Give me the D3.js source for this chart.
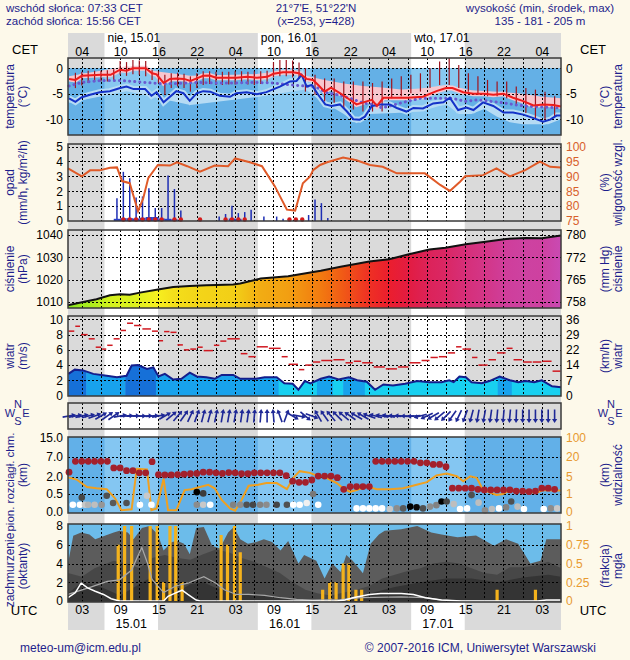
<!DOCTYPE html>
<html><head><meta charset="utf-8">
<script src="https://cdn.jsdelivr.net/npm/d3@7"></script>
<style>
html,body{margin:0;padding:0;background:#fdf9ea;}
svg{display:block;}
</style></head><body>
<svg id="c" width="630" height="660"></svg>
<script>
// ---------------- DATA ----------------
const sunriseH = [6.55, 30.55, 54.55];
const sunsetH  = [14.93, 38.93, 62.93];
const dayTopLabels = ["nie, 15.01", "pon, 16.01", "wto, 17.01"];
const dayBottomLabels = ["15.01", "16.01", "17.01"];
const labelHours = [3, 9, 15, 21, 27, 33, 39, 45, 51, 57, 63, 69, 75];
const cetLabels = ["04","10","16","22","04","10","16","22","04","10","16","22","04"];
const utcLabels = ["03","09","15","21","03","09","15","21","03","09","15","21","03"];

const tempHours = [1,2,3,6,7.5,9,10,11,13,14,14.7,15.8,16.8,17.8,19,20,21,22,23,24,25.7,27.2,28.8,30.4,32,33,34.5,36,37,38.2,39.2,40,41,42,43.4,44.5,46,47.3,48.4,49.2,50.2,52,54,56.4,58.5,60,61,62.7,64.3,66,67.4,69,70.5,72,73.7,75.2,76.8,78];
const temp = [-2.1,-2.3,-1.5,-1.3,-1.3,-0.3,-0.5,0,0,-1,-1.2,-2.9,-2.1,-2,-2.1,-2.5,-2,-1.5,-1.45,-1.85,-1.85,-1.85,-1.7,-1.85,-1.7,-1.1,-0.8,-0.8,-1,-2.1,-2.3,-3.3,-4.6,-3.8,-4.9,-5.8,-7.1,-6.6,-6.2,-7.4,-5.8,-5.8,-5.8,-5.6,-4.5,-3.9,-3.9,-4.7,-5,-5,-5.2,-5,-5.8,-6.4,-7.3,-7.1,-7.2,-7.5];
const dewHours = [1,2,3,4.3,5.8,7.4,9,10,11.1,12.9,13.9,14.7,15.8,16.8,17.8,18.9,19.9,21,22,23.1,24.6,26.2,27.2,28.8,30.4,31.9,34,35.6,36.6,37.4,38.2,39,40,41.1,42.1,43.4,44.5,45.5,46.5,47.3,48.4,49.7,51.2,52.3,53.8,54.9,56.4,58,59.6,60.6,61.9,63.2,64.3,65.8,67.4,69,70.5,72.1,73.7,75.2,76.3,77.3,78];
const dew = [-5.9,-6.6,-5.7,-5.2,-4.7,-4.5,-3.9,-3.6,-4.1,-4.1,-5.4,-4.7,-6.7,-5.6,-4.5,-4.9,-6.4,-4.9,-4.5,-4.6,-5.4,-5.6,-4.9,-4.7,-5.1,-4.7,-3.6,-2.6,-2.5,-1.3,-3.6,-3.3,-5.2,-7.1,-7.4,-7.1,-8.5,-10,-10.1,-9.5,-7.4,-7.1,-7.1,-7.8,-8.5,-7.8,-7.9,-6.9,-6.7,-5.8,-8.2,-7.7,-8.2,-6.7,-7.4,-8.7,-8.7,-9.1,-9.8,-10.5,-10.1,-9.3,-9.3];
const pinkHours = [1,10,14,20,30,36,38,41,44,47,50,53,56,60,64,68,72,75,78];
const pinkTop = [-1.6,0.4,-0.5,-1.5,-1.2,-0.3,-1.5,-2.3,-3,-3.5,-3.8,-4.2,-4,-3.3,-4.3,-4.6,-5,-5.6,-5.9];
const paleHours = [1,10,20,30,38,40,44,46,48,52,56,60,62,64,66,68,70,72,74,76,78];
const paleBottom = [-6.8,-4.5,-7.2,-5.7,-4.2,-6,-9,-10.8,-9,-8.8,-8.5,-7,-9,-9,-8,-9.5,-10.6,-11,-11,-11,-10];
const purpHours = [1,3,6,9,11,13,15,18,21,24,27,30,33,35,37,39,40,41.5,43,45,47,49,50,53,56,59,61,63,65,67,69,71,73,75,78];
const purp = [-3.5,-2.8,-2.4,-2.4,-2.6,-2.8,-3,-3,-2.8,-2.9,-2.9,-2.8,-2.9,-3.2,-3.4,-3.6,-3.9,-4.9,-5.2,-5.9,-6.8,-7.2,-7.8,-6.8,-5.9,-5.9,-5.9,-6.5,-6.2,-6.5,-6.8,-7.2,-7.5,-7.6,-7.8];
const tbHours = [2,3,4,5,6,7,8,9,10,11,12,13,14,15,16,17,18,19,20,21,22,23,24,25,26,27,28,29,30,31,32,33,34,35,36,37,38,39.5,41,42.5,44,45.5,47,48.5,50,51.5,53,54.5,56,57.5,59,60.5,62,63.5,65,66.5,68,69.5,71,72.5,74,75.5,77];
const tbHi = [-0.9,-0.7,-0.5,-0.5,-0.5,-0.4,-0.2,1.4,1.2,1.6,1.5,1.4,-0.3,-0.6,-1.3,-1,-0.9,-1.1,-1.6,-1,-0.6,-0.6,-0.7,-0.7,-0.7,-0.6,-0.6,-0.7,-0.6,-0.6,-0.5,1.2,1.6,1.6,1.5,1.1,0,-1.3,-2,-2,-2.6,-2.6,-2.6,-2.9,-2.6,-2,-1.6,-1.3,-1,0,1.3,2,0.65,-1,-1.6,-2.3,-2.6,-2.6,-3.6,-3.9,-4.2,-4.6,-5.5];
const tbLo = [-3.9,-3.4,-2.9,-2.7,-2.6,-2.6,-2.4,-1.3,-1.5,-1.2,-1.3,-1.6,-2.3,-2.9,-5.2,-3.9,-3.6,-3.9,-4.6,-3.9,-3.3,-3.1,-3.3,-3.3,-3.2,-3.2,-3.1,-3.2,-3.3,-3.1,-3,-1.8,-1.6,-1.6,-1.8,-2.1,-4.6,-5.2,-6.5,-6.8,-7.8,-8.1,-8.5,-8.5,-8.5,-5.9,-5.5,-4.9,-4.6,-3.9,-3.3,-3.3,-3.9,-4.6,-5.2,-5.5,-5.5,-5.9,-7.2,-8.8,-9.8,-10.1,-9.5];

const precipHours = [8.5,9.5,10.5,11.5,12.5,13.5,14.5,15.5,16.5,17.5,18.5,24.5,25.5,26.5,27.5,28.5,29.5,31.5,33.5,34.5,36.5,38.5,39.5,40.5,41.5];
const precip = [1.53,3.3,2.87,1.58,1.65,2.2,0.87,0.87,3.05,2.15,0.7,0.3,0.47,1.02,0.53,0.6,0.75,0.3,0.3,0.15,0.1,0.4,1.45,1.2,0.2];
const precipMeanHours = [8.5,9.5,10.5,11.5,12.5,13.5,14.5,15.5,16.5,17.5,26.5,27.5];
const precipMean = [0.08,0.12,0.12,0.1,0.15,0.2,0.2,0.1,0.08,0.05,0.1,0.08];
const snowHours = [9.5,10.5,11.5,12.5,13.5,14.5,15.5,17.5,18.5,21.5,25.5,26.5,27.5,28.5,35.5,36.5,37.5];
const rhHours = [0.84,3,4.3,5.8,7.4,8.5,9.3,10.5,11.8,12.6,13.4,14.9,16.8,17.9,19.5,21.5,23.8,25.9,27,29.3,31.2,33.2,35.1,36.4,37.6,38.7,39.2,40.3,41.4,43.9,46,48.1,50.1,52.3,54.3,56.7,59.1,60.6,62.2,63,65.8,67.9,70,72.4,74.7,76.3,78];
const rh = [92.7,90,92,92,92.9,93,88.4,87.7,78.3,82.5,89.4,93.8,93.6,94.7,93.4,91.6,93.6,93.4,96,94.7,93.4,86.7,78.8,78.5,87.7,89.9,92.1,93.8,94.7,96.3,95.4,93.8,93.2,91,91,91,87.1,85.1,88.2,90,90.4,92.7,90,92.1,94.9,93.2,93];

const presHours = [0.84,3.2,5.3,7.4,9,10.5,12.1,14.7,17.3,19.9,22.5,24.1,26.7,27.8,31,35.3,40.4,43.5,48,51.1,54.2,57.4,59.9,63.1,66.2,69.4,72.5,75,78];
const pres = [1008.5,1010,1011.2,1013,1013.5,1013.3,1014.2,1015.5,1016.7,1017.2,1017.5,1017.6,1017.8,1018.3,1020.5,1021.5,1024,1025.8,1028.2,1029.2,1031.4,1033.5,1034.3,1035.9,1037,1038.3,1038.7,1038.6,1039.8];
const presTicks = [1010,1020,1030,1040];
const mmHgLabels = ["758","765","772","780"];

const windHours = [0.9,1.9,3.2,4.8,6.9,8.5,10,10.8,11.8,13.2,14.2,15,16,17.3,18.6,19.9,21,22.5,23.8,24.9,26.7,27.8,30.3,31.6,33.5,34.7,36,36.9,37.9,38.8,40.4,41.7,43.2,44.8,46.1,47.6,48.9,50.2,51.7,53.6,55.5,57.4,59.3,60.5,61.2,62.1,63.1,64,65.6,66.8,68.4,70,71.3,72.5,73.8,75,76.6,78];
const wind = [2.84,3.4,3.3,2.84,2.6,2.4,2.6,3.95,4.0,3.5,3.7,2.5,2.84,2.1,2.2,3.0,2.5,2.4,2.2,2.7,2.7,2.2,2.2,2.4,2.4,1.6,1.55,0.75,1.9,1.6,2.2,2.5,2.1,2.4,2.0,1.8,0.75,1.45,1.3,1.55,1.9,1.75,1.75,2.0,1.75,2.5,2.4,1.75,1.6,1.9,2.5,2.0,1.75,1.9,1.75,2.0,1.2,1.1];
const windBandStart = [0.84,3.7,9.8,14.6,33.8,39.8,42.3,43.9,47.3,68.1,70.3];
const windBandEnd   = [3.7,9.8,14.6,33.8,39.8,42.3,43.9,47.3,68.1,70.3,78];
const windBandClass = [2,1,2,1,0,1,0,1,0,1,0];
const gustHours = [0.84,1.9,2.8,4.0,5.1,6.1,6.9,7.9,9.0,10.0,11.1,12.4,13.9,15.0,15.8,16.8,17.9,18.9,19.9,21.0,22.0,23.6,24.6,25.7,27.8,29.0,30.3,32.2,34.2,35.3,36.9,37.9,39.1,40.4,42.3,44.2,45.5,46.8,48.6,50.5,52.4,54.2,56.1,57.5,58.8,60.2,61.5,62.5,64.0,65.0,66.6,67.9,69.4,70.5,72.0,73.5,75.0,76.6];
const gust = [8.46,9.1,8.0,7.45,6.35,6.1,6.6,7.45,8.55,9.5,9.2,8.75,8.46,7.2,8.4,8.3,6.65,6.0,6.1,6.35,5.9,6.6,7.15,7.45,5.5,5.1,6.4,6.2,5.1,4.1,3.4,4.0,4.4,4.6,4.7,4.3,4.5,4.3,3.75,3.5,3.75,4.3,4.6,5.0,5.1,5.6,6.4,6.1,5.0,4.0,4.7,5.6,6.2,4.7,4.4,4.4,4.5,3.2];
const windTicks = [0,2,4,6,8,10];
const kmhLabels = ["0","7","14","22","29","36"];

const dirHours = [1,2,3,4,5,6,7,8,9,10,11,12,13,14,15,16,17,18,19,20,21,22,23,24,25,26,27,28,29,30,31,32,33,34,35,36,37,38,39,40,41,42,43,44,45,46,47,48,49,50,51,52,53,54,55,56,57,58,59,60,61,62,63,64,65,66,67,68,69,70,71,72,73,74,75,76,77];
const dirTo = [80,80,78,75,70,60,55,55,80,85,88,90,88,85,80,60,50,40,35,25,20,15,15,12,10,10,10,8,8,5,5,0,355,340,20,120,100,130,110,330,325,320,315,310,305,300,300,290,285,280,280,275,275,270,265,255,245,240,230,225,215,205,200,195,190,190,188,185,185,185,182,180,180,180,180,180,180];
const compassLetters = ["W","N","E","S"];

const cbHours = dirHours;
const cbKm = [3.1,5.9,5.9,5.9,5.9,5.9,5.9,4.2,4.2,3.5,3.5,2.95,2.95,5.8,2.5,2.4,2.4,2.5,2.6,2.7,2.8,3.1,3.1,2.95,2.8,3.0,2.95,2.7,2.7,2.95,2.95,2.95,2.95,2.95,2.2,1.6,1.5,1.5,1.7,2.1,2.1,2.1,1.9,0.9,1.14,1.14,1.14,1.14,5.9,5.9,5.9,5.9,5.9,5.9,5.9,5.5,5.5,5.1,5.1,4.5,1.0,1.0,1.0,1.0,0.9,0.85,0.85,0.85,0.85,0.85,0.75,0.75,0.7,0.75,1.0,1.0,0.9];
const lowHours = [1.6,2.7,3.0,3.5,4.0,5.0,6.1,6.9,7.9,10,12.1,13.2,13.9,21,22,21,22,23.1,26.7,27.8,28.8,29.8,30.9,31.9,33.5,35.1,36.1,37.1,38.2,39.2,40,46,47,48,49,50,51.2,52.3,53.3,54.4,55.4,56.4,57.5,58.5,59.3,60.1,61.2,62.2,63.3,64,65.1,66.1,67.2,68.3,69.4,70.2,71.2,72.2,75.3,76.4,77.4];
const lowKm = [0.2,0.2,0.4,0.2,0.2,0.2,0.2,0.45,0.25,0.25,0.2,0.45,0.2,0.66,0.55,0.2,0.2,0.2,0.2,0.2,0.2,0.2,0.2,0.2,0.2,0.2,0.2,0.2,0.25,0.5,0.2,0.1,0.1,0.1,0.1,0.1,0.08,0.1,0.1,0.15,0.13,0.1,0.15,0.19,0.29,0.29,0.22,0.08,0.1,0.47,0.26,0.05,0.08,0.1,0.13,0.29,0.15,0.08,0.08,0.1,0.1];
const lowGray = [255,255,70,200,180,190,150,80,90,80,255,200,255,0,60,140,200,255,130,140,80,70,130,140,70,80,255,255,240,120,255,255,255,255,255,255,200,140,90,0,10,80,140,130,0,70,190,255,255,80,190,140,190,255,130,80,190,255,255,140,200];
const visHours = [0.84,2.2,3.8,5.3,6.9,8.2,9.2,10.8,11.6,13.2,13.9,14.7,15.8,16.5,17.8,19.1,20.2,21.5,22.8,23.8,24.9,26.2,27,28,29.1,30.6,31.9,33.5,35.1,36.1,37.1,38.7,40,40.8,42.9,43.9,45,46,47.6,49.2,51.2,53.3,55.4,57,58.5,60.1,61.7,62.7,63.8,64.8,65.8,67.9,68.9,70,71.1,72.6,74.2,75.2,76.8,78];
const vis = [4.8,4.3,2.6,2.3,2.1,0.76,0.1,0.15,11,10.4,0.1,0.2,4.5,0.1,0.1,1.9,2.1,2.6,3.1,2.3,0.67,0.2,0.07,0.67,2.9,3.1,3.5,3.5,2.1,4.7,9.1,7.8,5.2,5.2,3.5,2.3,1.5,1.9,2.7,2.1,2.1,2.3,3.1,3.7,5.8,7.3,5.2,3.9,5.2,4.7,1.9,0.95,1.0,1.9,1.8,1.5,1.3,1.9,1.8,1.8];
const cbTicks = [0, 0.5, 2, 7, 15];
const cbLabels = ["0.0","0.5","2.0","7.0","15.0"];
const visTicks = [0, 1, 5, 20, 100];

const totHours = [0.84,1.66,2.9,4.2,5.1,6.7,8,8.9,10.2,11.1,12.4,13.6,14.9,15.8,17.1,18,19,19.9,20.9,22.1,23.4,24.6,25.9,26.8,27.8,29,30.3,31.5,32.8,34.1,35.3,36.9,37.8,39.7,41,42.2,43.5,44.4,45.4,47,48.2,49.5,50.4,53,55.5,57.7,59.3,61.8,64.7,67.5,69.4,71.3,73.2,74.8,75.7,78];
const totCloud = [4.0,6.96,7.3,7.1,6.6,7.0,7.3,7.5,7.3,6.6,7.8,8.0,7.1,5.4,6.3,6.4,6.1,5.0,7.8,7.9,5.9,5.6,7.3,7.9,6.6,6.1,6.3,6.6,6.3,5.4,6.4,4.0,4.9,4.3,2.4,4.0,3.1,4.9,4.3,2.96,6.1,7.1,7.5,7.65,8.0,7.3,7.1,6.8,7.0,5.9,6.6,6.1,4.0,4.3,6.6,6.6];
const midHours = [0.84,3,5,8,10,12,14,16,18,20,22,24,26,28,30,32,34,36,38,40,42,44,46,48,50,52,54,56,58,60,62,64,66,68,70,72,74,76,78];
const midCloud = [3.0,2.6,3.5,4.3,4.0,3.5,4.6,4.9,4.6,4.4,5.0,5.5,5.2,4.6,4.2,3.6,3.0,2.0,1.2,0.8,0.6,0.9,1.2,1.6,2.4,2.8,3.2,3.5,4.0,4.2,4.0,3.5,3.0,2.8,3.6,3.6,3.8,4.2,3.5];
const lowCHours = [0.84,3,6,9,12,14,16,18,20,22,24,26,28,30,32,34,36,40,44,48,52,56,60,64,68,72,76,78];
const lowCloud = [0.8,2.0,1.5,0.6,1.8,2.6,1.5,1.0,1.8,2.0,1.4,1.0,0.8,0.7,0.6,0.4,0.2,0.0,0.2,0.8,1.5,2.0,2.4,2.4,2.0,2.5,2.8,2.6];
const whiteHours = [0.84,1.97,2.9,3.9,5.1,6.4,7.6,8.9,15.8,16.5,17.7,18.7,19.6,20.9,21.5,42.9,44.2,45.4,48,49.8,53,54.9,56.8,59.3,62.4,74.4,75.7,78];
const whiteLine = [0.35,0.87,1.9,1.4,1.04,0.7,0.24,0,0,0.5,0.87,1.15,0.7,0.1,0,0,0.1,0.35,0.7,0.8,0.8,0.7,0.35,0.1,0,0,0.1,0.1];
const greyHours = [0.84,4.5,7,8.9,10.8,11.7,12.4,13.3,14,15.8,17.7,19.6,20.9,22.1,24,25.3,27.2,29.1,31.6,34.1,36.6,39.1,43.5,46.7,53,56.8,59.3,62.4,78];
const greyLine = [0.7,1.5,2.1,2.26,3.3,4.7,5.7,4,2.3,0.9,1.6,1.9,2.26,2.6,1.9,1.2,0.7,0.7,0.6,0.35,0.17,0.1,0.15,0.35,0.45,0.35,0.1,0,0];
const fogHours = [8.7,9.7,10.8,13.7,14.8,15.8,16.8,17.7,18.7,24.8,25.8,26.9,27.8,40.7,41.8,42.8,43.9,44.8,45.9,46.8,68,74];
const fog = [0.75,1,1,1,1,0.25,1,1,0.25,0.88,0.75,1,0.65,0.15,0.25,0.25,0.5,0.5,0.15,0.15,0.15,0.15];
const fogTicks = [0,0.25,0.5,0.75,1];
const fogLabels = ["0","0.25","0.5","0.75","1"];

// ---------------- DRAWING ----------------
const FONT = '"Liberation Sans", Arial, Helvetica, sans-serif';
const NAVY = "#1e1e8c";
const svg = d3.select("#c").style("font-family", FONT);
svg.append("rect").attr("width",630).attr("height",660).attr("fill","#fdf9ea");

const X0 = 68, X1 = 561;
const x = d3.scaleLinear().domain([0.84, 78]).range([X0, X1]);
const gridHours = d3.range(3, 78, 3);
const pair = (hs, vs) => hs.map((h,i)=>[h, vs[i]]);

// day / night columns
svg.append("rect").attr("x",X0).attr("y",33).attr("width",X1-X0).attr("height",597).attr("fill","#dadada");
svg.selectAll("rect.day").data(sunriseH).join("rect").attr("class","day")
  .attr("x",d=>x(d)).attr("y",33).attr("width",(d,i)=>x(sunsetH[i])-x(d)).attr("height",597).attr("fill","#ffffff");

function vgrid(g, y0, y1) {
  g.selectAll(null).data(gridHours).join("line")
    .attr("x1",d=>Math.round(x(d))+0.5).attr("x2",d=>Math.round(x(d))+0.5)
    .attr("y1",y0).attr("y2",y1).attr("stroke","#000").attr("stroke-width",1)
    .attr("stroke-dasharray","2,2");
}
function hgrid(g, scale, vals) {
  g.selectAll(null).data(vals).join("line")
    .attr("x1",X0).attr("x2",X1).attr("y1",d=>Math.round(scale(d))+0.5).attr("y2",d=>Math.round(scale(d))+0.5)
    .attr("stroke","#000").attr("stroke-width",1).attr("stroke-dasharray","2,2");
}
function frame(y0, y1) {
  svg.append("rect").attr("x",X0).attr("y",y0).attr("width",X1-X0).attr("height",y1-y0)
    .attr("fill","none").attr("stroke","#3a3a3a").attr("stroke-width",1.5);
}
function axisL(scale, vals, labels, color) {
  const g = svg.append("g").attr("transform",`translate(${X0},0)`)
    .call(d3.axisLeft(scale).tickValues(vals).tickSize(0).tickPadding(5).tickFormat((d,i)=>labels ? labels[i] : d));
  g.select(".domain").remove();
  g.selectAll("text").attr("fill",color||"#000").style("font-size","12px").style("font-family",FONT);
}
function axisR(scale, vals, labels, color) {
  const g = svg.append("g").attr("transform",`translate(${X1},0)`)
    .call(d3.axisRight(scale).tickValues(vals).tickSize(0).tickPadding(5).tickFormat((d,i)=>labels ? labels[i] : d));
  g.select(".domain").remove();
  g.selectAll("text").attr("fill",color||"#000").style("font-size","12px").style("font-family",FONT);
}
function vtitle(xc, yc, txt, size) {
  svg.append("text").attr("transform",`translate(${xc},${yc}) rotate(-90)`).attr("text-anchor","middle")
    .attr("dy","0.35em").attr("fill",NAVY).style("font-size",(size||12)+"px").text(txt);
}
function titles(yc, l1, l2, r1, r2) {
  vtitle(10, yc, l1); vtitle(23, yc, l2); vtitle(605, yc, r1); vtitle(618, yc, r2);
}
function txt(xp, yp, s, anchor, size, color) {
  svg.append("text").attr("x",xp).attr("y",yp).attr("text-anchor",anchor||"start")
    .attr("fill",color||NAVY).style("font-size",(size||12)+"px").text(s);
}

// ---------- header ----------
txt(6, 11.5, "wschód słońca: 07:33 CET", "start", 11.5);
txt(6, 25, "zachód słońca: 15:56 CET", "start", 11.5);
txt(316, 11.5, "21°7'E, 51°22'N", "middle", 11.5);
txt(316, 25, "(x=253,  y=428)", "middle", 11.5);
txt(540, 11.5, "wysokość (min, środek, max)", "middle", 11.5);
txt(540, 25, "135 - 181 - 205 m", "middle", 11.5);
sunriseH.forEach((h,i)=> txt(x(h)+3, 42, dayTopLabels[i], "start", 12, "#000"));
{
  const g = svg.append("g").attr("transform","translate(0,58)")
    .call(d3.axisTop(x).tickValues(labelHours).tickSize(0).tickPadding(2).tickFormat((d,i)=>cetLabels[i]));
  g.select(".domain").remove();
  g.selectAll("text").attr("fill","#000").style("font-size","12.5px").style("font-family",FONT);
}
txt(25, 54, "CET", "middle", 13, "#000");
txt(593, 54, "CET", "middle", 13, "#000");

// ---------- temperature ----------
{
  const y0=58, y1=135;
  const yT = d3.scaleLinear().domain([-13.1, 2]).range([y1, y0]);
  const g = svg.append("g");
  g.append("rect").attr("x",X0).attr("y",yT(0)).attr("width",X1-X0).attr("height",y1-yT(0)).attr("fill","#64b0e6");
  g.selectAll(null).data(sunriseH).join("rect").attr("x",d=>x(d)).attr("y",yT(0))
    .attr("width",(d,i)=>x(sunsetH[i])-x(d)).attr("height",y1-yT(0)).attr("fill","#88c8f0");
  const line = d3.line().x(d=>x(d[0])).y(d=>yT(d[1]));
  const dewPts = pair(dewHours, dew), tPts = pair(tempHours, temp);
  g.append("path").attr("d", line(pair(paleHours,paleBottom).concat(dewPts.slice().reverse()))+"Z").attr("fill","#b6dbf4");
  g.append("path").attr("d", line(dewPts)).attr("fill","none").attr("stroke","#b6dbf4").attr("stroke-width",6);
  g.append("path").attr("d", line(pair(pinkHours,pinkTop).concat(tPts.slice().reverse()))+"Z").attr("fill","#f7c6ce");
  g.append("path").attr("d", line(tPts)).attr("fill","none").attr("stroke","#f7c6ce").attr("stroke-width",5);
  hgrid(g, yT, [0,-5,-10]); vgrid(g, y0, y1);
  g.selectAll(null).data(tbHours).join("line").attr("x1",d=>x(d)).attr("x2",d=>x(d))
    .attr("y1",(d,i)=>yT(tbHi[i])).attr("y2",(d,i)=>yT(tbLo[i])).attr("stroke","#a0141e").attr("stroke-width",1.2);
  g.append("path").attr("d", line(pair(purpHours,purp))).attr("fill","none").attr("stroke","#6a5ad0")
    .attr("stroke-width",3).attr("stroke-linecap","round").attr("stroke-dasharray","0.1,5");
  g.append("path").attr("d", line(dewPts)).attr("fill","none").attr("stroke","#1432c8").attr("stroke-width",2);
  g.append("path").attr("d", line(tPts)).attr("fill","none").attr("stroke","#ee1c1c").attr("stroke-width",2);
  frame(y0,y1);
  axisL(yT, [0,-5,-10]); axisR(yT, [0,-5,-10]);
  titles((y0+y1)/2, "temperatura", "(°C)", "(°C)", "temperatura");
}

// ---------- precipitation / humidity ----------
{
  const y0=144, y1=221;
  const yP = d3.scaleLinear().domain([0, 5.17]).range([y1, y0]);
  const yH = d3.scaleLinear().domain([75, 100.85]).range([y1, y0]);
  const g = svg.append("g");
  hgrid(g, yP, [1,2,3,4,5]); vgrid(g, y0, y1);
  g.selectAll(null).data(precipHours).join("line").attr("x1",d=>x(d)).attr("x2",d=>x(d))
    .attr("y1",yP(0)).attr("y2",(d,i)=>yP(precip[i])).attr("stroke","#1e2eb4").attr("stroke-width",1.5);
  g.selectAll(null).data(precipMeanHours).join("rect").attr("x",d=>x(d)-3.2).attr("width",6.4)
    .attr("y",(d,i)=>yP(precipMean[i])-1).attr("height",(d,i)=>yP(0)-yP(precipMean[i])+1).attr("fill","#2a3ec8");
  g.selectAll(null).data(snowHours).join("circle").attr("cx",d=>x(d)).attr("cy",y1-1.5).attr("r",2.2).attr("fill","#d41c1c");
  const line = d3.line().x(d=>x(d[0])).y(d=>yH(d[1]));
  g.append("path").attr("d", line(pair(rhHours, rh))).attr("fill","none").attr("stroke","#e05a28").attr("stroke-width",2);
  frame(y0,y1);
  axisL(yP, [0,1,2,3,4,5]); axisR(yH, [75,80,85,90,95,100], null, "#d8602c");
  titles((y0+y1)/2, "opad", "(mm/h, kg/m²/h)", "(%)", "wilgotność wzgl.");
}

// ---------- pressure ----------
{
  const y0=230, y1=308;
  const yPr = d3.scaleLinear().domain([1007.3, 1042.3]).range([y1, y0]);
  const pcol = d3.scaleLinear()
    .domain([1008,1012,1015.5,1018,1021,1024,1027,1029,1032,1035,1038,1040])
    .range(["#7ee61e","#c4f01c","#f6f020","#f2cc16","#f2a612","#f27a10","#f04a18","#ec1e2c","#e01c48","#d82a6c","#d03c96","#c84cb6"]);
  const defs = svg.append("defs");
  const grad = defs.append("linearGradient").attr("id","pg").attr("gradientUnits","userSpaceOnUse")
    .attr("x1",X0).attr("x2",X1).attr("y1",0).attr("y2",0);
  grad.selectAll("stop").data(pair(presHours,pres)).join("stop")
    .attr("offset",d=>(x(d[0])-X0)/(X1-X0)).attr("stop-color",d=>pcol(d[1]));
  const g = svg.append("g");
  const area = d3.area().x(d=>x(d[0])).y0(y1).y1(d=>yPr(d[1]));
  g.append("path").attr("d", area(pair(presHours,pres))).attr("fill","url(#pg)");
  hgrid(g, yPr, presTicks); vgrid(g, y0, y1);
  const line = d3.line().x(d=>x(d[0])).y(d=>yPr(d[1]));
  g.append("path").attr("d", line(pair(presHours,pres))).attr("fill","none").attr("stroke","#111").attr("stroke-width",2);
  frame(y0,y1);
  axisL(yPr, presTicks); axisR(yPr, presTicks, mmHgLabels);
  titles((y0+y1)/2, "ciśnienie", "(hPa)", "(mm Hg)", "ciśnienie");
}

// ---------- wind ----------
{
  const y0=316, y1=396;
  const yW = d3.scaleLinear().domain([0, 10.45]).range([y1-0.5, y0]);
  const g = svg.append("g");
  const defs = svg.append("defs");
  const area = d3.area().x(d=>x(d[0])).y0(y1).y1(d=>yW(d[1]));
  defs.append("clipPath").attr("id","wclip").append("path").attr("d", area(pair(windHours,wind)));
  const cols = ["#18d0f0","#18a2ec","#1670d8"];
  g.append("g").attr("clip-path","url(#wclip)").selectAll("rect").data(windBandStart).join("rect")
    .attr("x",d=>x(d)).attr("width",(d,i)=>x(windBandEnd[i])-x(d)+0.5).attr("y",y0).attr("height",y1-y0)
    .attr("fill",(d,i)=>cols[windBandClass[i]]);
  hgrid(g, yW, [2,4,6,8,10]); vgrid(g, y0, y1);
  g.selectAll(null).data(gustHours).join("line")
    .attr("x1",d=>x(d)+0.5).attr("x2",(d,i)=>(i<gustHours.length-1 ? x(gustHours[i+1]) : x(78))-0.5)
    .attr("y1",(d,i)=>yW(gust[i])).attr("y2",(d,i)=>yW(gust[i])).attr("stroke","#d01820").attr("stroke-width",1.5);
  const line = d3.line().x(d=>x(d[0])).y(d=>yW(d[1]));
  g.append("path").attr("d", line(pair(windHours,wind))).attr("fill","none").attr("stroke","#141e8c").attr("stroke-width",2);
  frame(y0,y1);
  axisL(yW, windTicks); axisR(yW, windTicks, kmhLabels);
  titles((y0+y1)/2, "wiatr", "(m/s)", "(km/h)", "wiatr");
}

// ---------- wind direction ----------
{
  const y0=403, y1=429, yc=(y0+y1)/2;
  const g = svg.append("g");
  vgrid(g, y0, y1);
  const arr = g.selectAll(null).data(dirHours).join("g")
    .attr("transform",(d,i)=>`translate(${x(d)},${yc}) rotate(${dirTo[i]})`);
  arr.append("line").attr("x1",0).attr("x2",0).attr("y1",6.5).attr("y2",-4).attr("stroke","#1e2896").attr("stroke-width",1.6);
  arr.append("path").attr("d","M-2.6,-3 L0,-7 L2.6,-3 Z").attr("fill","#1e2896");
  frame(y0,y1);
  // compass rose: W, N, E, S
  const cdx = [-8, 0, 8, 0], cdy = [3, -6, 3, 11];
  [18, 611].forEach(cx=>{
    compassLetters.forEach((L,k)=> txt(cx+cdx[k], 414+cdy[k], L, "middle", 11, NAVY));
  });
}

// ---------- cloud base / visibility ----------
{
  const y0=437, y1=513;
  const rng = [512, 494, 476.5, 457, 438];
  const yC = d3.scaleLinear().domain(cbTicks).range(rng).clamp(true);
  const yV = d3.scaleLinear().domain(visTicks).range(rng).clamp(true);
  const g = svg.append("g");
  g.append("rect").attr("x",X0).attr("y",y0).attr("width",X1-X0).attr("height",y1-y0).attr("fill","#62b0e8");
  g.selectAll(null).data(sunriseH).join("rect").attr("x",d=>x(d)).attr("y",y0)
    .attr("width",(d,i)=>x(sunsetH[i])-x(d)).attr("height",y1-y0).attr("fill","#84c6f2");
  hgrid(g, yC, [0.5,2,7]); vgrid(g, y0, y1);
  const line = d3.line().x(d=>x(d[0])).y(d=>yV(d[1]));
  g.append("path").attr("d", line(pair(visHours,vis))).attr("fill","none").attr("stroke","#f0a020").attr("stroke-width",2);
  g.selectAll(null).data(lowHours).join("circle").attr("cx",d=>x(d)).attr("cy",(d,i)=>yC(lowKm[i]))
    .attr("r",3.3).attr("fill",(d,i)=>d3.rgb(lowGray[i],lowGray[i],lowGray[i]));
  g.selectAll(null).data(cbHours).join("circle").attr("cx",d=>x(d)).attr("cy",(d,i)=>yC(cbKm[i]))
    .attr("r",3.4).attr("fill","#a3202c");
  frame(y0,y1);
  axisL(yC, cbTicks, cbLabels); axisR(yV, visTicks, null, "#e89a30");
  vtitle(10, 482, "pion. rozciągł. chm.", 11.5); vtitle(23, 475, "(km)");
  vtitle(605, 475, "(km)"); vtitle(618, 475, "widzialność");
}

// ---------- cloud cover / fog ----------
{
  const y0=524, y1=602;
  const yO = d3.scaleLinear().domain([0, 8]).range([y1-1, 526]);
  const yF = d3.scaleLinear().domain([0, 1]).range([y1-1, 526]);
  const g = svg.append("g");
  g.append("rect").attr("x",X0).attr("y",y0).attr("width",X1-X0).attr("height",y1-y0).attr("fill","#6cbcea");
  const area = d3.area().x(d=>x(d[0])).y0(y1).y1(d=>yO(d[1]));
  g.append("path").attr("d", area(pair(totHours,totCloud))).attr("fill","#5c5c5c");
  g.append("path").attr("d", area(pair(midHours,midCloud))).attr("fill","#474747");
  g.append("path").attr("d", area(pair(lowCHours,lowCloud))).attr("fill","#343434");
  g.selectAll(null).data(fogHours).join("rect").attr("x",d=>x(d)-1.6).attr("width",3.2)
    .attr("y",(d,i)=>yF(fog[i])).attr("height",(d,i)=>yF(0)-yF(fog[i])).attr("fill","#f4b21c");
  hgrid(g, yO, [2,4,6]); vgrid(g, y0, y1);
  const line = d3.line().x(d=>x(d[0])).y(d=>yO(d[1]));
  g.append("path").attr("d", line(pair(greyHours,greyLine))).attr("fill","none").attr("stroke","#a8a8a8").attr("stroke-width",1.2);
  g.append("path").attr("d", line(pair(whiteHours,whiteLine))).attr("fill","none").attr("stroke","#ffffff").attr("stroke-width",1.5);
  frame(y0,y1);
  axisL(yO, [0,2,4,6,8]); axisR(yF, fogTicks, fogLabels, "#e89a30");
  vtitle(10, 570, "zachmurzenie"); vtitle(23, 566, "(oktanty)");
  vtitle(605, 566, "(frakcja)"); vtitle(618, 566, "mgła");
}

// ---------- bottom axis ----------
{
  const g = svg.append("g").attr("transform","translate(0,602)")
    .call(d3.axisBottom(x).tickValues(labelHours).tickSize(0).tickPadding(3).tickFormat((d,i)=>utcLabels[i]));
  g.select(".domain").remove();
  g.selectAll("text").attr("fill","#000").style("font-size","12.5px").style("font-family",FONT);
  txt(24, 615, "UTC", "middle", 13, "#000");
  txt(593, 615, "UTC", "middle", 13, "#000");
  sunriseH.forEach((h,i)=> txt(x((h+sunsetH[i])/2), 628, dayBottomLabels[i], "middle", 12.5, "#000"));
}

// ---------- footer ----------
txt(20, 652, "meteo-um@icm.edu.pl", "start", 12, NAVY);
txt(596, 652, "© 2007-2016 ICM, Uniwersytet Warszawski", "end", 12, NAVY);
</script></body></html>
